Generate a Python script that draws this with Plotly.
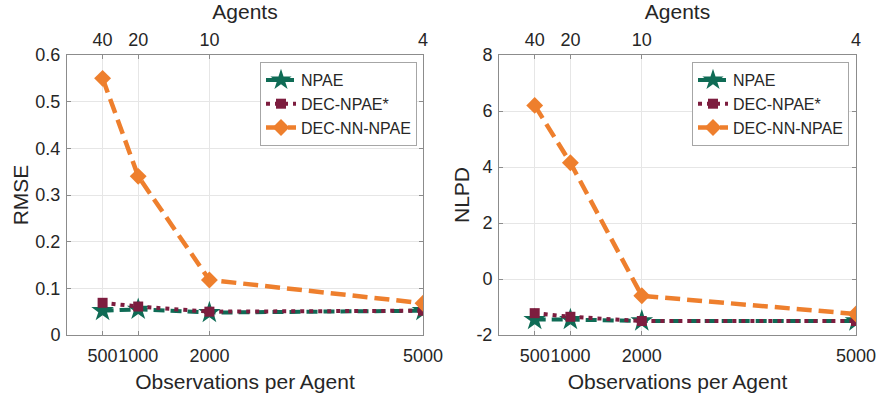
import plotly.graph_objects as go

# Observations per agent (bottom axis) and the matching number of agents (top axis)
obs_per_agent = [500, 1000, 2000, 5000]
agent_counts = ["40", "20", "10", "4"]

# RMSE per method
rmse_npae = [0.052, 0.055, 0.048, 0.052]
rmse_dec_npae = [0.069, 0.061, 0.050, 0.052]
rmse_dec_nn_npae = [0.55, 0.34, 0.118, 0.068]

# NLPD per method
nlpd_npae = [-1.45, -1.45, -1.50, -1.50]
nlpd_dec_npae = [-1.22, -1.35, -1.50, -1.50]
nlpd_dec_nn_npae = [6.2, 4.15, -0.6, -1.25]

# y tick labels (NLPD uses a plain hyphen for negatives)
rmse_ticks = [0, 0.1, 0.2, 0.3, 0.4, 0.5, 0.6]
rmse_ticktext = ["0", "0.1", "0.2", "0.3", "0.4", "0.5", "0.6"]
nlpd_ticks = [-2, 0, 2, 4, 6, 8]
nlpd_ticktext = ["-2", "0", "2", "4", "6", "8"]

GREEN = "#0F6B55"
PURPLE = "#7D1D3F"
ORANGE = "#EE7F2D"
FONT = "Liberation Sans, Arial, sans-serif"
TXT = "#262626"
AXC = "#8c8c8c"
GRID = "#e6e6e6"

fig = go.Figure()


def add_panel(xa, ya, npae, dec, decnn, legend):
    fig.add_trace(go.Scatter(
        x=obs_per_agent, y=npae, name="NPAE", mode="lines+markers",
        line=dict(color=GREEN, width=4, dash="11px,6px"),
        marker=dict(symbol="star", size=17, color=GREEN),
        xaxis=xa, yaxis=ya, legend=legend))
    fig.add_trace(go.Scatter(
        x=obs_per_agent, y=dec, name="DEC-NPAE*", mode="lines+markers",
        line=dict(color=PURPLE, width=4, dash="4px,5px"),
        marker=dict(symbol="square", size=10, color=PURPLE),
        xaxis=xa, yaxis=ya, legend=legend))
    fig.add_trace(go.Scatter(
        x=obs_per_agent, y=decnn, name="DEC-NN-NPAE", mode="lines+markers",
        line=dict(color=ORANGE, width=4.5, dash="15px,7px"),
        marker=dict(symbol="diamond", size=13, color=ORANGE),
        xaxis=xa, yaxis=ya, legend=legend))


add_panel("x", "y", rmse_npae, rmse_dec_npae, rmse_dec_nn_npae, "legend")
add_panel("x3", "y2", nlpd_npae, nlpd_dec_npae, nlpd_dec_nn_npae, "legend2")

# invisible traces so the top (agent count) axes are drawn
fig.add_trace(go.Scatter(x=obs_per_agent, y=rmse_npae, xaxis="x2", yaxis="y",
                         mode="markers", marker=dict(opacity=0), showlegend=False,
                         hoverinfo="skip"))
fig.add_trace(go.Scatter(x=obs_per_agent, y=nlpd_npae, xaxis="x4", yaxis="y2",
                         mode="markers", marker=dict(opacity=0), showlegend=False,
                         hoverinfo="skip"))

left_dom = [67 / 878, 423 / 878]
right_dom = [499 / 878, 856 / 878]
y_dom = [1 - 335 / 402, 1 - 55 / 402]

tick_font = dict(family=FONT, size=18, color=TXT)
title_font = dict(family=FONT, size=21, color=TXT)

bottom_x = dict(
    range=[0, 5000], tickvals=obs_per_agent,
    ticktext=[str(v) for v in obs_per_agent], tickangle=0, automargin=False,
    ticks="inside", ticklen=4, tickcolor=AXC, showline=True, linecolor=AXC,
    linewidth=1, mirror=False, showgrid=True, gridcolor=GRID, zeroline=False,
    tickfont=tick_font, ticklabelstandoff=4,
    title=dict(text="Observations per Agent", standoff=9, font=title_font),
)
top_x = dict(
    range=[0, 5000], tickvals=obs_per_agent, ticktext=agent_counts,
    tickangle=0, automargin=False,
    side="top", ticks="inside", ticklen=4, tickcolor=AXC, showline=True,
    linecolor=AXC, linewidth=1, showgrid=False, zeroline=False,
    tickfont=tick_font, ticklabelstandoff=1,
    title=dict(text="Agents", standoff=4, font=title_font),
)
y_common = dict(
    ticks="inside", ticklen=4, tickcolor=AXC, showline=True, linecolor=AXC,
    linewidth=1, mirror="ticks", showgrid=True, gridcolor=GRID, zeroline=False,
    tickfont=tick_font, ticklabelstandoff=2, automargin=False,
)
legend_common = dict(
    xanchor="right", yanchor="top", bgcolor="white", bordercolor="#a6a6a6",
    borderwidth=1, font=dict(family=FONT, size=16, color=TXT),
    tracegroupgap=0, itemwidth=30,
)

fig.update_layout(
    width=878, height=402,
    margin=dict(l=0, r=0, t=0, b=0),
    paper_bgcolor="white", plot_bgcolor="white",
    xaxis=dict(domain=left_dom, anchor="y", **bottom_x),
    xaxis2=dict(domain=left_dom, anchor="y", overlaying="x", **top_x),
    xaxis3=dict(domain=right_dom, anchor="y2", **bottom_x),
    xaxis4=dict(domain=right_dom, anchor="y2", overlaying="x3", **top_x),
    yaxis=dict(domain=y_dom, anchor="x", range=[0, 0.6],
               tickvals=rmse_ticks, ticktext=rmse_ticktext,
               title=dict(text="RMSE", standoff=1, font=title_font),
               **y_common),
    yaxis2=dict(domain=y_dom, anchor="x3", range=[-2, 8],
                tickvals=nlpd_ticks, ticktext=nlpd_ticktext,
                title=dict(text="NLPD", standoff=1, font=title_font),
                **y_common),
    legend=dict(x=417 / 878, y=1 - 62 / 402, **legend_common),
    legend2=dict(x=849 / 878, y=1 - 62 / 402, **legend_common),
    showlegend=True,
)

fig.write_html("out.html")
